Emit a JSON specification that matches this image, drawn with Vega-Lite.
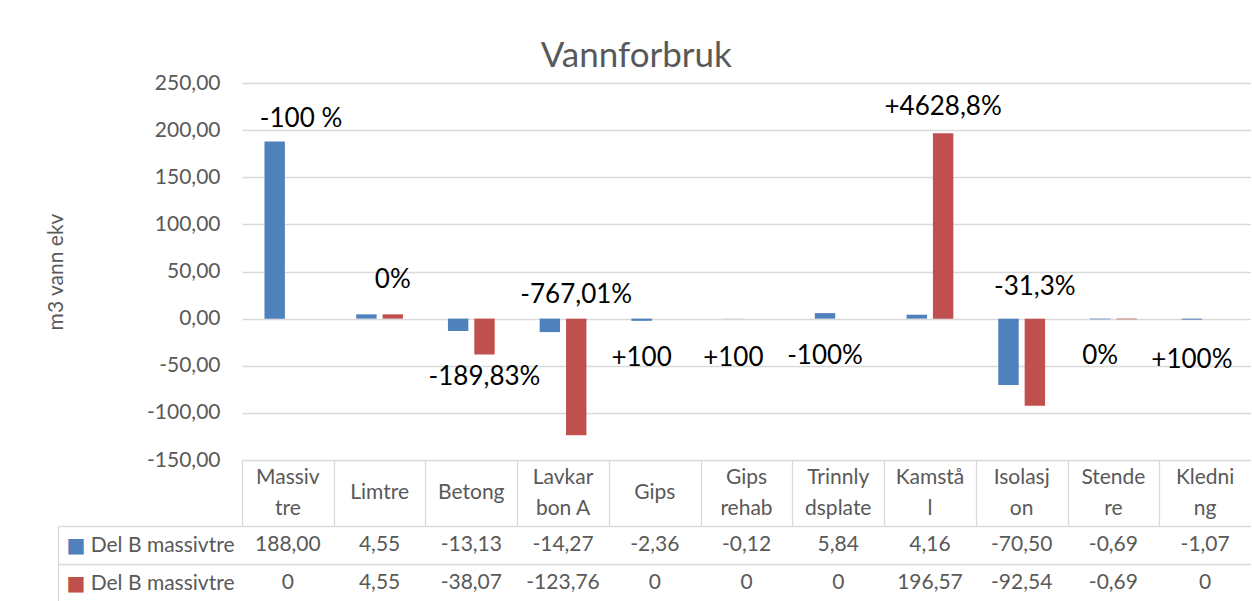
{
  "$schema": "https://vega.github.io/schema/vega-lite/v6.json",
  "padding": {"left": 45, "top": 39, "right": 0, "bottom": 0},
  "background": "#ffffff",
  "config": {
    "locale": {"number": {"decimal": ",", "thousands": " ", "grouping": [3], "currency": ["", ""], "minus": "-"}},
    "font": "Lato",
    "view": {"stroke": null},
    "axis": {"gridColor": "#d9d9d9", "gridWidth": 1.3, "domainColor": "#d9d9d9", "tickColor": "#d9d9d9", "tickWidth": 1.3, "labelColor": "#595959", "titleColor": "#595959", "labelFont": "Lato", "titleFont": "Lato"}
  },
  "title": {"text": "Vannforbruk", "fontSize": 35, "font": "Lato", "fontWeight": "normal", "color": "#595959", "anchor": "middle", "frame": "bounds", "offset": -2, "dx": -12},
  "datasets": {
    "bars": [
      {"cat": "Massivtre", "series": "s1", "value": 188.00, "txt": "188,00"},
      {"cat": "Limtre", "series": "s1", "value": 4.55, "txt": "4,55"},
      {"cat": "Betong", "series": "s1", "value": -13.13, "txt": "-13,13"},
      {"cat": "Lavkarbon A", "series": "s1", "value": -14.27, "txt": "-14,27"},
      {"cat": "Gips", "series": "s1", "value": -2.36, "txt": "-2,36"},
      {"cat": "Gips rehab", "series": "s1", "value": -0.12, "txt": "-0,12"},
      {"cat": "Trinnlydsplate", "series": "s1", "value": 5.84, "txt": "5,84"},
      {"cat": "Kamstål", "series": "s1", "value": 4.16, "txt": "4,16"},
      {"cat": "Isolasjon", "series": "s1", "value": -70.50, "txt": "-70,50"},
      {"cat": "Stendere", "series": "s1", "value": -0.69, "txt": "-0,69"},
      {"cat": "Kledning", "series": "s1", "value": -1.07, "txt": "-1,07"},
      {"cat": "Massivtre", "series": "s2", "value": 0, "txt": "0"},
      {"cat": "Limtre", "series": "s2", "value": 4.55, "txt": "4,55"},
      {"cat": "Betong", "series": "s2", "value": -38.07, "txt": "-38,07"},
      {"cat": "Lavkarbon A", "series": "s2", "value": -123.76, "txt": "-123,76"},
      {"cat": "Gips", "series": "s2", "value": 0, "txt": "0"},
      {"cat": "Gips rehab", "series": "s2", "value": 0, "txt": "0"},
      {"cat": "Trinnlydsplate", "series": "s2", "value": 0, "txt": "0"},
      {"cat": "Kamstål", "series": "s2", "value": 196.57, "txt": "196,57"},
      {"cat": "Isolasjon", "series": "s2", "value": -92.54, "txt": "-92,54"},
      {"cat": "Stendere", "series": "s2", "value": -0.69, "txt": "-0,69"},
      {"cat": "Kledning", "series": "s2", "value": 0, "txt": "0"}
    ],
    "cats": [
      {"cat": "Massivtre", "head": "Massiv\ntre"},
      {"cat": "Limtre", "head": "Limtre"},
      {"cat": "Betong", "head": "Betong"},
      {"cat": "Lavkarbon A", "head": "Lavkar\nbon A"},
      {"cat": "Gips", "head": "Gips"},
      {"cat": "Gips rehab", "head": "Gips\nrehab"},
      {"cat": "Trinnlydsplate", "head": "Trinnly\ndsplate"},
      {"cat": "Kamstål", "head": "Kamstå\nl"},
      {"cat": "Isolasjon", "head": "Isolasj\non"},
      {"cat": "Stendere", "head": "Stende\nre"},
      {"cat": "Kledning", "head": "Kledni\nng"}
    ],
    "notes": [
      {"cat": "Massivtre", "series": "s2", "y": 212, "txt": "-100 %"},
      {"cat": "Limtre", "series": "s2", "y": 41, "txt": "0%"},
      {"cat": "Betong", "series": "s2", "y": -62, "txt": "-189,83%"},
      {"cat": "Lavkarbon A", "series": "s2", "y": 25, "txt": "-767,01%"},
      {"cat": "Gips", "series": "s1", "y": -42, "txt": "+100"},
      {"cat": "Gips rehab", "series": "s1", "y": -42, "txt": "+100"},
      {"cat": "Trinnlydsplate", "series": "s1", "y": -40, "txt": "-100%"},
      {"cat": "Kamstål", "series": "s2", "y": 225, "txt": "+4628,8%"},
      {"cat": "Isolasjon", "series": "s2", "y": 34, "txt": "-31,3%"},
      {"cat": "Stendere", "series": "s1", "y": -40, "txt": "0%"},
      {"cat": "Kledning", "series": "s1", "y": -44, "txt": "+100%"}
    ]
  },
  "spacing": 0,
  "bounds": "flush",
  "resolve": {"scale": {"x": "independent", "y": "independent"}},
  "vconcat": [
    {
      "width": 1009,
      "height": 377,
      "layer": [
        {
          "data": {"name": "bars"},
          "mark": {"type": "bar"},
          "encoding": {
            "x": {"field": "cat", "type": "nominal", "sort": ["Massivtre", "Limtre", "Betong", "Lavkarbon A", "Gips", "Gips rehab", "Trinnlydsplate", "Kamstål", "Isolasjon", "Stendere", "Kledning"], "scale": {"paddingInner": 0.49, "paddingOuter": 0.245}, "axis": null},
            "xOffset": {"field": "series", "type": "nominal", "scale": {"domain": ["s1", "s2"], "paddingInner": 0.226, "paddingOuter": 0}},
            "y": {"field": "value", "type": "quantitative", "scale": {"domain": [-150, 250], "nice": false},
              "axis": {"values": [-150, -100, -50, 0, 50, 100, 150, 200, 250], "format": ".2f", "title": "m3 vann ekv", "grid": true, "ticks": false, "domain": false, "labelFontSize": 21, "labelPadding": 22, "titleFontSize": 21, "titleFontWeight": "normal", "titlePadding": 80}},
            "color": {"field": "series", "type": "nominal", "scale": {"domain": ["s1", "s2"], "range": ["#4f81bd", "#c0504d"]}, "legend": null}
          }
        },
        {
          "data": {"name": "notes"},
          "mark": {"type": "text", "fontSize": 26, "color": "#000000", "baseline": "middle", "align": "center"},
          "encoding": {
            "x": {"field": "cat", "type": "nominal", "sort": ["Massivtre", "Limtre", "Betong", "Lavkarbon A", "Gips", "Gips rehab", "Trinnlydsplate", "Kamstål", "Isolasjon", "Stendere", "Kledning"]},
            "xOffset": {"field": "series", "type": "nominal"},
            "y": {"field": "y", "type": "quantitative"},
            "text": {"field": "txt"}
          }
        }
      ]
    },
    {
      "width": 1009,
      "height": 66,
      "data": {"name": "cats"},
      "encoding": {
        "x": {"field": "cat", "type": "nominal", "sort": ["Massivtre", "Limtre", "Betong", "Lavkarbon A", "Gips", "Gips rehab", "Trinnlydsplate", "Kamstål", "Isolasjon", "Stendere", "Kledning"], "scale": {"paddingInner": 0, "paddingOuter": 0},
          "axis": {"orient": "top", "tickOffset": -45.86, "grid": true, "labels": false, "ticks": false, "domain": false, "title": null}},
        "text": {"field": "head"}
      },
      "layer": [
        {
          "transform": [{"filter": "indexof(datum.head, '\\n') < 0"}],
          "mark": {"type": "text", "fontSize": 21, "color": "#595959", "baseline": "middle", "align": "center"}
        },
        {
          "transform": [{"filter": "indexof(datum.head, '\\n') >= 0"}],
          "mark": {"type": "text", "fontSize": 21, "color": "#595959", "lineBreak": "\n", "lineHeight": 31, "baseline": "middle", "align": "center", "dy": -15.5}
        }
      ]
    },
    {
      "width": 1009,
      "height": 76,
      "data": {"name": "bars"},
      "layer": [
        {
          "mark": {"type": "text", "fontSize": 21, "color": "#595959", "baseline": "middle", "align": "center"},
          "encoding": {
            "x": {"field": "cat", "type": "nominal", "sort": ["Massivtre", "Limtre", "Betong", "Lavkarbon A", "Gips", "Gips rehab", "Trinnlydsplate", "Kamstål", "Isolasjon", "Stendere", "Kledning"], "scale": {"paddingInner": 0, "paddingOuter": 0},
              "axis": {"orient": "top", "tickOffset": -45.86, "grid": true, "labels": false, "ticks": false, "domain": false, "title": null}},
            "y": {"field": "series", "type": "nominal", "scale": {"domain": ["s1", "s2"], "paddingInner": 0, "paddingOuter": 0},
              "axis": {"orient": "left", "tickOffset": -19, "labelOffset": 19, "grid": true, "ticks": true, "tickSize": 184, "domain": false, "labelExpr": "'Del B massivtre'", "labelPadding": -176, "labelFontSize": 21, "title": null}},
            "text": {"field": "txt"}
          }
        },
        {
          "mark": {"type": "text", "opacity": 0},
          "encoding": {
            "x": {"field": "cat", "type": "nominal", "sort": ["Massivtre", "Limtre", "Betong", "Lavkarbon A", "Gips", "Gips rehab", "Trinnlydsplate", "Kamstål", "Isolasjon", "Stendere", "Kledning"], "axis": null},
            "y": {"field": "series", "type": "nominal",
              "axis": {"orient": "left", "offset": 184, "grid": false, "ticks": false, "domain": true, "domainColor": "#d9d9d9", "domainWidth": 1.3, "labelExpr": "'■'", "labelFont": "DejaVu Sans", "labelFontSize": 20, "labelAlign": "left", "labelPadding": -8, "labelColor": {"expr": "datum.value == 's1' ? '#4f81bd' : '#c0504d'"}, "title": null}},
            "text": {"field": "txt"}
          }
        }
      ],
      "resolve": {"axis": {"y": "independent"}}
    }
  ]
}
